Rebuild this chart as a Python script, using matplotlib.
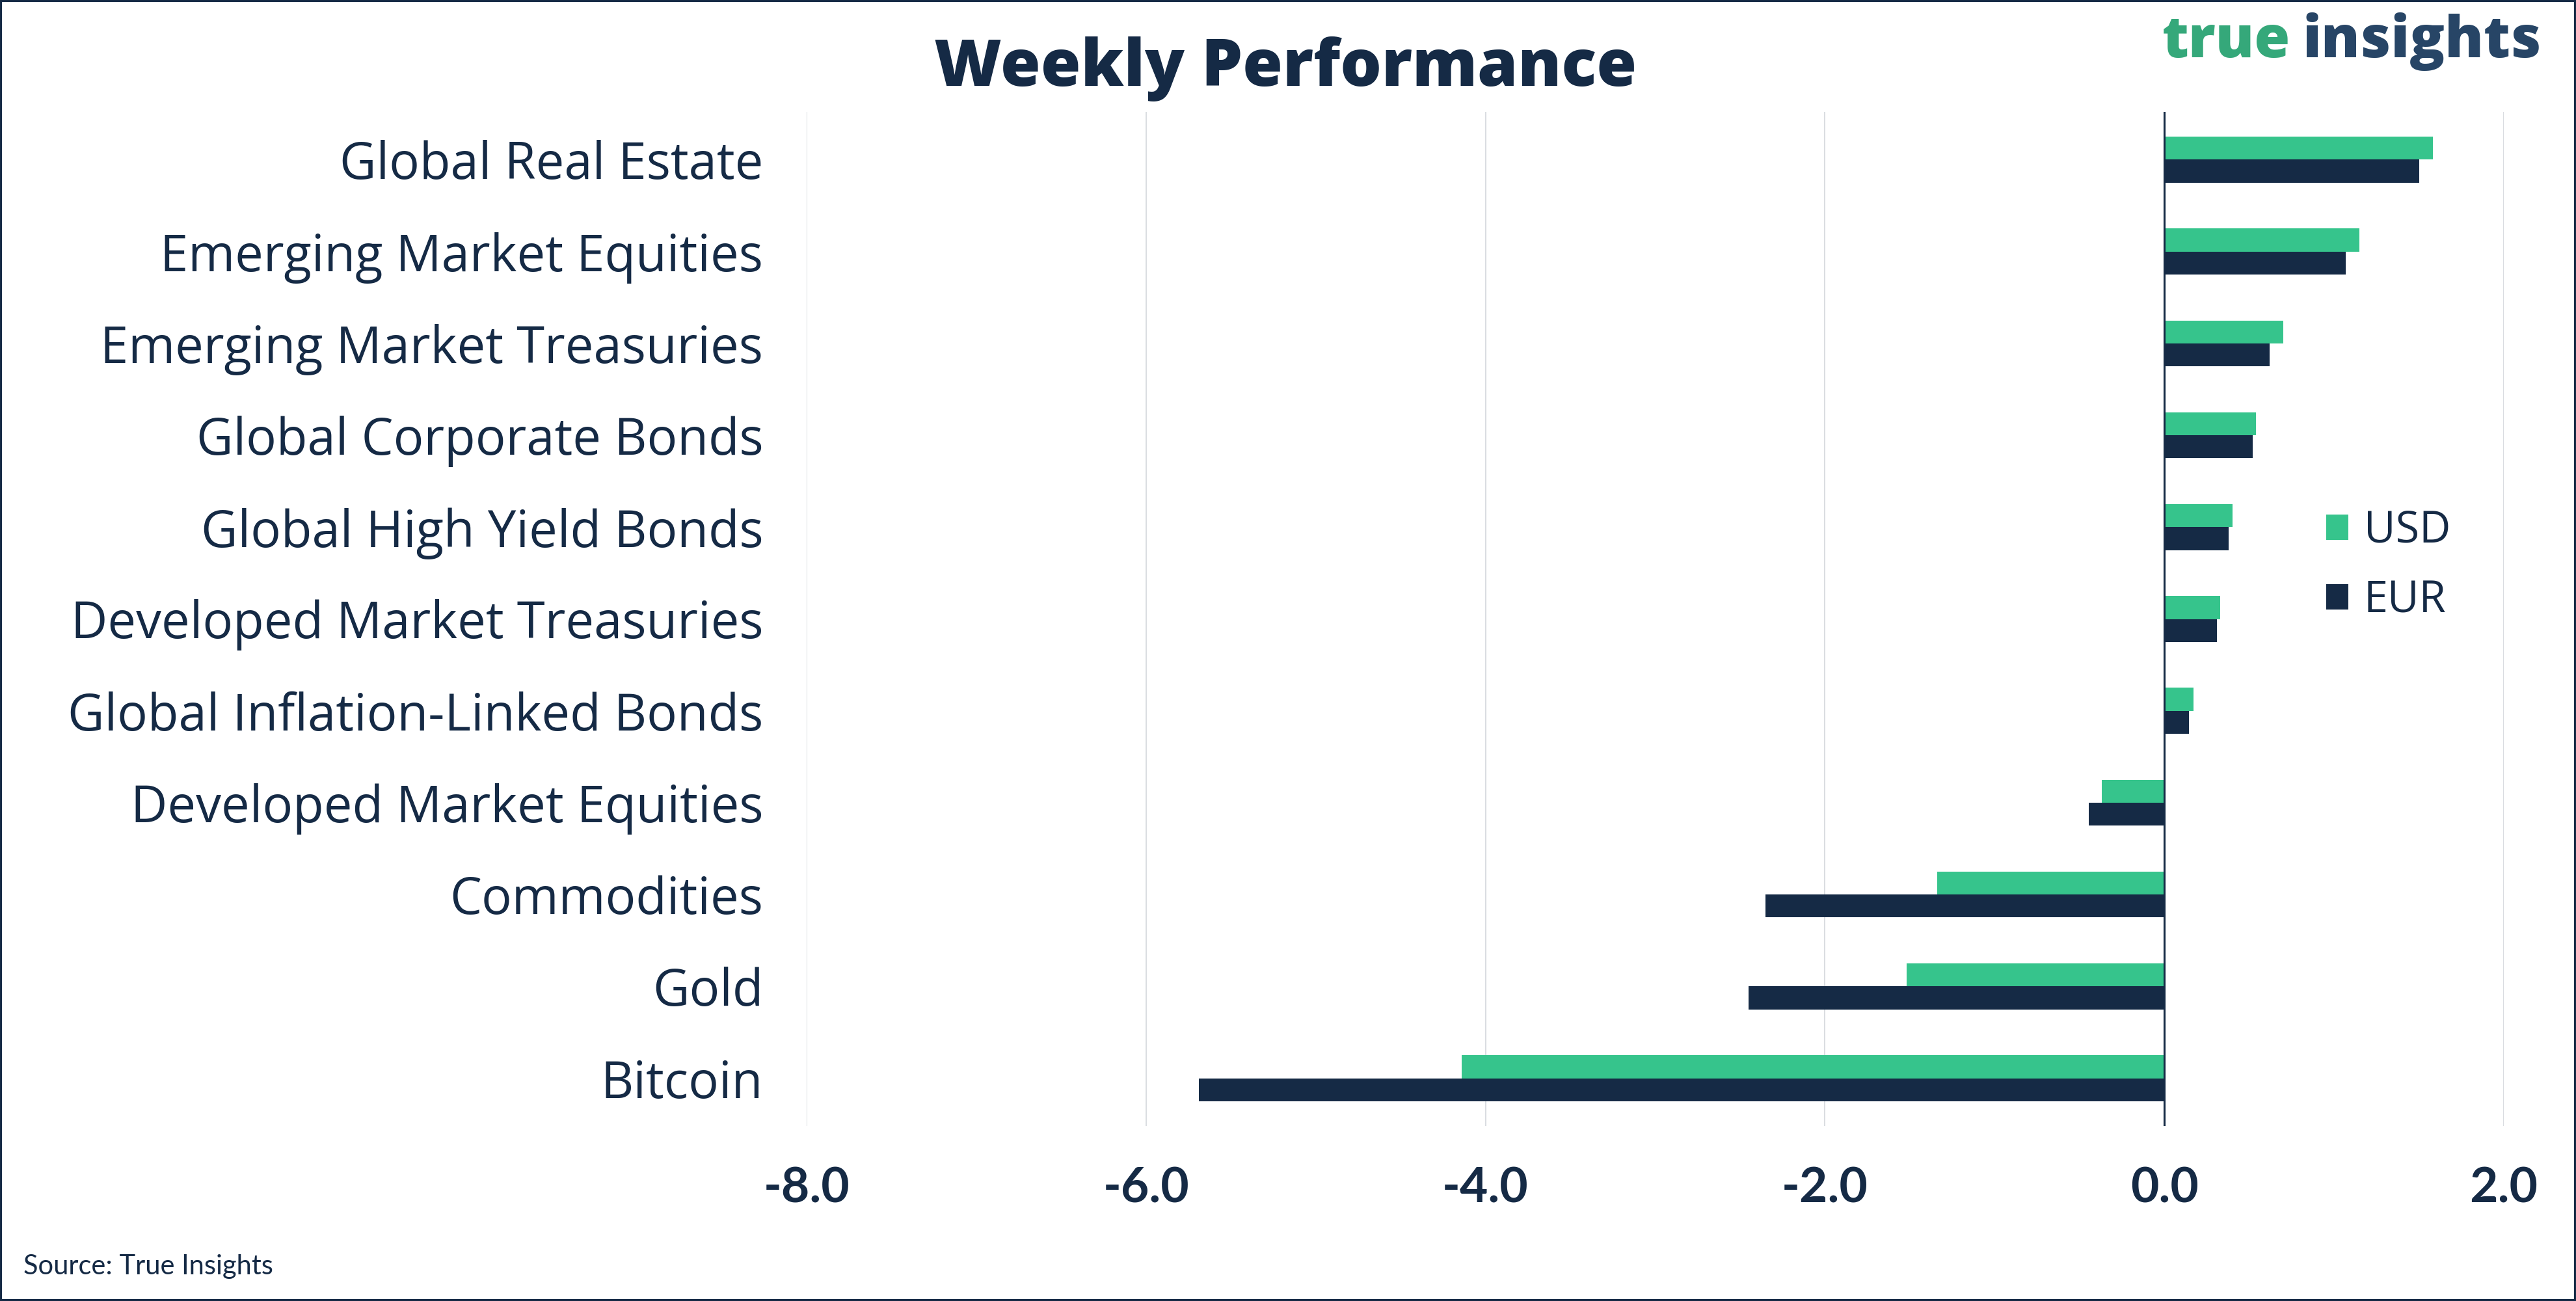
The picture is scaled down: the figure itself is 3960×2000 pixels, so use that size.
import matplotlib
matplotlib.use("Agg")
import matplotlib.pyplot as plt
import numpy as np
from matplotlib.patches import Rectangle

# ---- data (top to bottom) ----
categories = [
    "Global Real Estate",
    "Emerging Market Equities",
    "Emerging Market Treasuries",
    "Global Corporate Bonds",
    "Global High Yield Bonds",
    "Developed Market Treasuries",
    "Global Inflation-Linked Bonds",
    "Developed Market Equities",
    "Commodities",
    "Gold",
    "Bitcoin",
]
usd = [1.58, 1.15, 0.70, 0.54, 0.40, 0.33, 0.17, -0.37, -1.34, -1.52, -4.14]
eur = [1.50, 1.07, 0.62, 0.52, 0.38, 0.31, 0.145, -0.445, -2.35, -2.45, -5.69]
xticks = [-8, -6, -4, -2, 0, 2]

GREEN = "#36c48c"
NAVY = "#152a45"
GRID = "#d3d7dc"
LABEL_FONT = ["Open Sans", "DejaVu Sans"]

plt.rcParams["font.family"] = ["Lato", "DejaVu Sans"]

fig = plt.figure(figsize=(19.8, 10), dpi=200)
ax = fig.add_axes([0.3131, 0.1345, 0.6589, 0.7795])

y = np.arange(len(categories))
h = 0.25
ax.barh(y - h / 2, usd, height=h, color=GREEN, label="USD", zorder=3)
ax.barh(y + h / 2, eur, height=h, color=NAVY, label="EUR", zorder=3)

ax.set_xlim(-8, 2)
ax.set_ylim(len(categories) - 0.48, -0.52)
ax.set_xticks(xticks)
ax.set_xticklabels([f"{t:.1f}" for t in xticks], fontsize=27, fontweight="bold", color=NAVY)
ax.set_yticks(y)
ax.set_yticklabels(categories, fontsize=28, color=NAVY, family=LABEL_FONT)
ax.tick_params(axis="both", length=0)
ax.tick_params(axis="x", pad=22)
ax.tick_params(axis="y", pad=24)

for t in xticks:
    if t != 0:
        ax.axvline(t, color=GRID, lw=0.6, zorder=1)
ax.axvline(0, color=NAVY, lw=1.1, zorder=4)

for s in ax.spines.values():
    s.set_visible(False)

ax.legend(loc="center left", bbox_to_anchor=(0.8945, 0.565), bbox_transform=fig.transFigure,
          frameon=False, prop={"family": LABEL_FONT, "size": 24},
          handlelength=0.52, handleheight=0.52, handletextpad=0.35,
          labelspacing=0.6, borderpad=0, labelcolor=NAVY)

fig.text(0.499, 0.934, "Weekly Performance", ha="center", va="baseline",
         fontsize=36, fontweight="heavy", color=NAVY, family=LABEL_FONT)

# logo: "true" + "insights" set tight, scaled to the logo width
renderer = fig.canvas.get_renderer()
logo_left, logo_right, logo_base = 3324, 3907, 2000 - 88
size = 33
t1 = fig.text(logo_left / 3960, logo_base / 2000, "true", ha="left", va="baseline",
              fontsize=size, fontweight="heavy", color="#35a87a", family=LABEL_FONT)
t2 = fig.text(0, logo_base / 2000, "insights", ha="left", va="baseline",
              fontsize=size, fontweight="heavy", color="#274566", family=LABEL_FONT)
gap = 18
w1 = t1.get_window_extent(renderer).width
w2 = t2.get_window_extent(renderer).width
scale = (logo_right - logo_left - gap) / (w1 + w2)
t1.set_fontsize(size * scale)
t2.set_fontsize(size * scale)
w1 = t1.get_window_extent(renderer).width
t2.set_x((logo_left + w1 + gap) / 3960)

fig.text(0.0091, 0.0205, "Source: True Insights", ha="left", va="baseline",
         fontsize=15, color=NAVY)

fig.patches.append(Rectangle((0, 0), 1, 1, transform=fig.transFigure, fill=False,
                             edgecolor=NAVY, linewidth=2.2))

fig.savefig("out.png", dpi=200)
